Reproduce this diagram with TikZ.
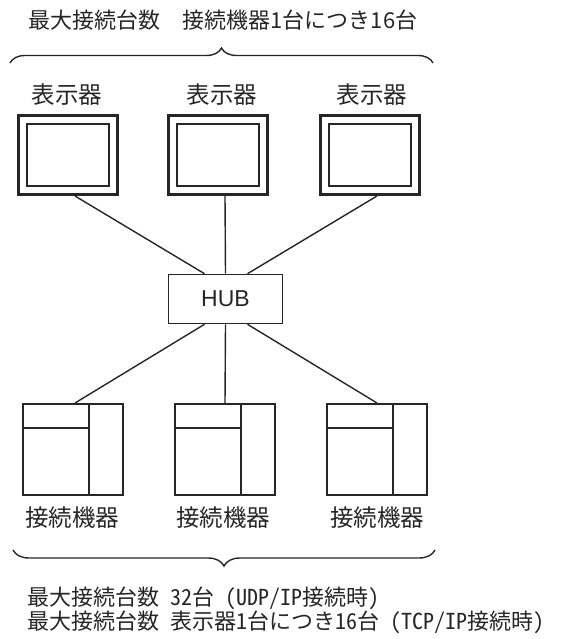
\documentclass[tikz,border=0pt]{standalone}
\usepackage{fontspec}
\setmainfont{Noto Sans CJK JP}
\newfontfamily\halfjp[RawFeature=+hwid]{Noto Sans CJK JP}
\newfontfamily\hubfont{Liberation Sans}
\usetikzlibrary{positioning,decorations.pathreplacing}

\begin{document}
\begin{tikzpicture}[x=1pt,y=1pt,
    every node/.style={text=black!85},
    wire/.style={draw=black!85,line width=1.4pt},
    disp/.style={draw=black!85,line width=3pt,minimum width=99pt,minimum height=79pt,inner sep=0pt},
    screen/.style={draw=black!85,line width=2pt,minimum width=82pt,minimum height=62pt,inner sep=0pt},
    unit/.style={draw=black!85,line width=2pt,minimum width=100pt,minimum height=91pt,inner sep=0pt},
    hubbox/.style={draw=black!85,line width=1.6pt,minimum width=114pt,minimum height=49pt,inner sep=0pt,font=\hubfont\fontsize{23pt}{26pt}\selectfont},
    lbl/.style={font=\fontsize{23.5pt}{26pt}\selectfont},
    note/.style={font=\fontsize{22pt}{24pt}\selectfont},
    count/.style={font=\halfjp\fontsize{22pt}{24pt}\selectfont,anchor=west,inner sep=0pt}]
  \useasboundingbox (0,0) rectangle (570,-639);
  % top count and brace
  \node[note] (top) at (223,-20) {最大接続台数　接続機器1台につき16台};
  \draw[wire,decorate,decoration={brace,amplitude=15pt}] (10,-63) -- (433,-63);
  % displays
  \node[lbl] (l1) at (67,-95) {表示器};
  \node[lbl] (l2) at (222,-95) {表示器};
  \node[lbl] (l3) at (372,-95) {表示器};
  \node[disp] (d1) at (68,-155) {};
  \node[disp] (d2) at (218,-155) {};
  \node[disp] (d3) at (370,-155) {};
  \node[screen] (s1) at (d1) {};
  \node[screen] (s2) at (d2) {};
  \node[screen] (s3) at (d3) {};
  % hub
  \node[hubbox] (hub) at (225.5,-299) {HUB};
  \draw[wire] ([xshift=7pt]d1.south) -- ([xshift=-21pt]hub.north);
  \draw[wire] ([xshift=7pt]d2.south) -- (hub.north);
  \draw[wire] ([xshift=7pt]d3.south) -- ([xshift=22pt]hub.north);
  % devices
  \node[unit] (c1) at (73,-449.5) {};
  \node[unit] (c2) at (225,-449.5) {};
  \node[unit] (c3) at (377,-449.5) {};
  \foreach \n in {c1,c2,c3}{
    \draw[draw=black!85,line width=2pt] ([xshift=67pt]\n.north west) -- ([xshift=67pt]\n.south west);
    \draw[draw=black!85,line width=2pt] ([yshift=-25pt]\n.north west) -- ([xshift=67pt,yshift=-25pt]\n.north west);
  }
  \draw[wire] ([xshift=-21pt]hub.south) -- ([xshift=2pt]c1.north);
  \draw[wire] (hub.south) -- (c2.north);
  \draw[wire] ([xshift=22pt]hub.south) -- (c3.north);
  \node[lbl] (k1) at (72,-518) {接続機器};
  \node[lbl] (k2) at (223,-518) {接続機器};
  \node[lbl] (k3) at (377,-518) {接続機器};
  % bottom brace and counts
  \draw[wire,decorate,decoration={brace,amplitude=16pt}] (435,-550) -- (13,-550);
  \node[count] (b1) at (27,-598) {最大接続台数 32台 (UDP/IP接続時)};
  \node[count] (b2) at (27,-622) {最大接続台数　表示器1台につき16台　(TCP/IP接続時)};
\end{tikzpicture}
\end{document}
